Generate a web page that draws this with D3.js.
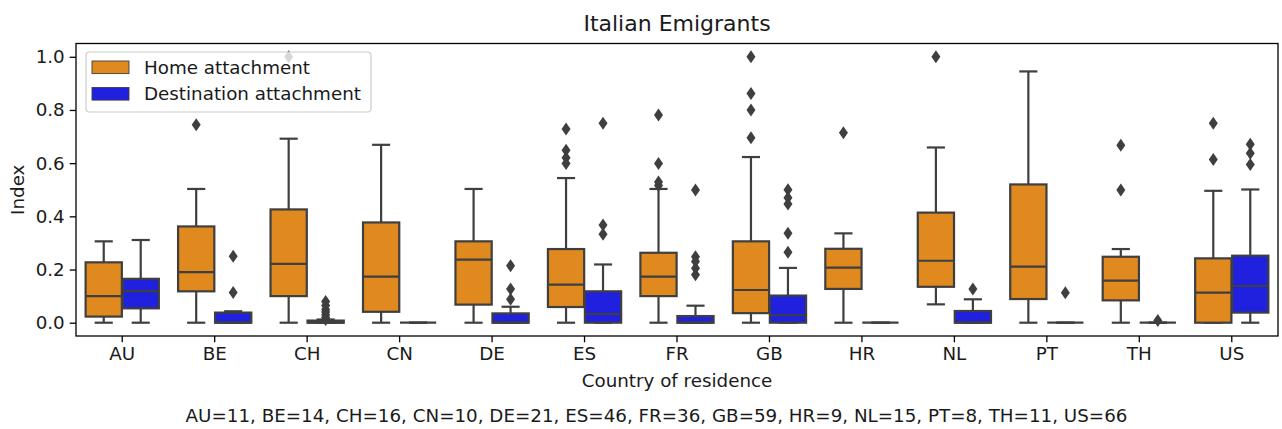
<!DOCTYPE html>
<html>
<head>
<meta charset="utf-8">
<script src="https://cdn.jsdelivr.net/npm/d3@7"></script>
<style>
  html, body { margin: 0; padding: 0; background: #fff; }
  svg { display: block; font-family: "DejaVu Sans", sans-serif; }
</style>
</head>
<body>
<svg id="chart" width="1282" height="429"></svg>
<script>
const categories = ["AU","BE","CH","CN","DE","ES","FR","GB","HR","NL","PT","TH","US"];
const seriesNames = ["Home attachment", "Destination attachment"];
const seriesColors = ["#df891f", "#2020df"];

// Home attachment box statistics
const homeLo  = [0, 0, 0, 0, 0, 0, 0, 0, 0, 0.069, 0, 0, 0];
const homeQ1  = [0.023, 0.118, 0.10, 0.041, 0.068, 0.059, 0.10, 0.036, 0.127, 0.135, 0.089, 0.084, 0.0];
const homeMed = [0.10, 0.19, 0.221, 0.173, 0.237, 0.143, 0.173, 0.123, 0.207, 0.233, 0.211, 0.158, 0.113];
const homeQ3  = [0.227, 0.362, 0.426, 0.377, 0.306, 0.277, 0.263, 0.306, 0.278, 0.414, 0.52, 0.248, 0.242];
const homeHi  = [0.306, 0.503, 0.692, 0.669, 0.503, 0.544, 0.503, 0.623, 0.336, 0.659, 0.945, 0.277, 0.496];
const homeOut = [[], [0.744], [1.0], [], [], [0.728, 0.649, 0.62, 0.599], [0.781, 0.599, 0.529, 0.516],
                 [1.0, 0.862, 0.80, 0.696], [0.714], [1.0], [], [0.667, 0.499], [0.75, 0.614]];

// Destination attachment box statistics
const destLo  = [0, 0, 0, 0, 0, 0, 0, 0, 0, 0, 0, 0, 0];
const destQ1  = [0.054, 0, 0, 0, 0, 0, 0, 0, 0, 0, 0, 0, 0.038];
const destMed = [0.119, 0, 0, 0, 0, 0.033, 0, 0.028, 0, 0, 0, 0, 0.138];
const destQ3  = [0.165, 0.038, 0.008, 0, 0.035, 0.118, 0.025, 0.102, 0, 0.044, 0, 0, 0.252];
const destHi  = [0.311, 0.043, 0.012, 0, 0.06, 0.219, 0.064, 0.206, 0, 0.088, 0, 0, 0.501];
const destOut = [[], [0.25, 0.114], [0.08, 0.065, 0.05, 0.04, 0.03, 0.02, 0.012], [], [0.214, 0.127, 0.088],
                 [0.75, 0.367, 0.333], [0.499, 0.248, 0.23, 0.205, 0.18], [0.50, 0.47, 0.446, 0.336, 0.265],
                 [], [0.127], [0.113], [0.008], [0.671, 0.637, 0.595]];

const yTicks = [0.0, 0.2, 0.4, 0.6, 0.8, 1.0];
const counts = [11, 14, 16, 10, 21, 46, 36, 59, 9, 15, 8, 11, 66];

const titleText = "Italian Emigrants";
const xLabel = "Country of residence";
const yLabel = "Index";

// ---------------------------------------------------------------
(function () {
const svg = d3.select("#chart");
const pl = 76, pr = 1278, pt = 43.5, pb = 336;
const lineColor = "#3f3f3f";
const textColor = "#1a1a1a";
const fs = 18.3;

const x = d3.scaleBand().domain(categories).range([pl, pr]).padding(0);
const y = d3.scaleLinear().domain([-0.05, 1.05]).range([pb, pt]);

const bw = x.bandwidth() * 0.8 / 2;

const series = [
  {lo: homeLo, q1: homeQ1, med: homeMed, q3: homeQ3, hi: homeHi, out: homeOut},
  {lo: destLo, q1: destQ1, med: destMed, q3: destQ3, hi: destHi, out: destOut}
];

const plot = svg.append("g");

series.forEach((s, si) => {
  categories.forEach((c, i) => {
    const x0 = x(c) + x.bandwidth() * 0.1 + si * bw;
    const w = bw * 0.98;
    const xs = x0 + (bw - w) / 2;
    const xc = x0 + bw / 2;
    const g = plot.append("g");
    g.append("line").attr("x1", xc).attr("x2", xc).attr("y1", y(s.q3[i])).attr("y2", y(s.hi[i]))
      .attr("stroke", lineColor).attr("stroke-width", 2.2);
    g.append("line").attr("x1", xc).attr("x2", xc).attr("y1", y(s.q1[i])).attr("y2", y(s.lo[i]))
      .attr("stroke", lineColor).attr("stroke-width", 2.2);
    [s.hi[i], s.lo[i]].forEach(v => {
      g.append("line").attr("x1", xc - w / 4).attr("x2", xc + w / 4).attr("y1", y(v)).attr("y2", y(v))
        .attr("stroke", lineColor).attr("stroke-width", 2.2);
    });
    g.append("rect").attr("x", xs).attr("width", w)
      .attr("y", y(s.q3[i])).attr("height", Math.max(0, y(s.q1[i]) - y(s.q3[i])))
      .attr("fill", seriesColors[si]).attr("stroke", lineColor).attr("stroke-width", 2.2);
    g.append("line").attr("x1", xs).attr("x2", xs + w).attr("y1", y(s.med[i])).attr("y2", y(s.med[i]))
      .attr("stroke", lineColor).attr("stroke-width", 2.2);
    s.out[i].forEach(v => {
      const cy = y(v);
      g.append("path")
        .attr("d", `M${xc},${cy - 6.5}L${xc + 4.5},${cy}L${xc},${cy + 6.5}L${xc - 4.5},${cy}Z`)
        .attr("fill", lineColor);
    });
  });
});

const xAxis = d3.axisBottom(x).tickSize(6.3).tickPadding(5);
const gx = svg.append("g").attr("transform", `translate(0,${pb})`).call(xAxis);
gx.select(".domain").remove();
gx.selectAll(".tick line").attr("stroke", "#000").attr("stroke-width", 1.3);
gx.selectAll(".tick text").attr("font-size", fs).attr("font-family", "DejaVu Sans").attr("fill", textColor);

const yAxis = d3.axisLeft(y).tickValues(yTicks).tickFormat(d3.format(".1f")).tickSize(6.3).tickPadding(5);
const gy = svg.append("g").attr("transform", `translate(${pl},0)`).call(yAxis);
gy.select(".domain").remove();
gy.selectAll(".tick line").attr("stroke", "#000").attr("stroke-width", 1.3);
gy.selectAll(".tick text").attr("font-size", fs).attr("font-family", "DejaVu Sans").attr("fill", textColor);

svg.append("rect").attr("x", pl).attr("y", pt).attr("width", pr - pl).attr("height", pb - pt)
  .attr("fill", "none").attr("stroke", "#000").attr("stroke-width", 1.3);

const lg = svg.append("g");
lg.append("rect").attr("x", 86).attr("y", 52).attr("width", 285).attr("height", 60).attr("rx", 3.5)
  .attr("fill", "#fff").attr("fill-opacity", 0.8).attr("stroke", "#cccccc").attr("stroke-width", 1.2);
seriesNames.forEach((n, i) => {
  const yy = 61 + i * 26.5;
  lg.append("rect").attr("x", 92).attr("y", yy).attr("width", 37).attr("height", 12.6)
    .attr("fill", seriesColors[i]).attr("stroke", lineColor).attr("stroke-width", 0.9);
  lg.append("text").attr("x", 144).attr("y", yy + 6.3).attr("dy", "0.35em")
    .attr("font-size", fs).attr("fill", textColor).text(n);
});

svg.append("text").attr("x", (pl + pr) / 2).attr("y", 30.5).attr("text-anchor", "middle")
  .attr("font-size", 22).attr("fill", textColor).text(titleText);
svg.append("text").attr("x", (pl + pr) / 2).attr("y", 387).attr("text-anchor", "middle")
  .attr("font-size", fs).attr("fill", textColor).text(xLabel);
svg.append("text").attr("transform", `translate(24,${(pt + pb) / 2}) rotate(-90)`)
  .attr("text-anchor", "middle").attr("font-size", fs).attr("fill", textColor).text(yLabel);
svg.append("text").attr("x", 656.5).attr("y", 421.5).attr("text-anchor", "middle")
  .attr("font-size", fs).attr("fill", textColor)
  .text(categories.map((c, i) => `${c}=${counts[i]}`).join(", "));
})();
</script>
</body>
</html>
